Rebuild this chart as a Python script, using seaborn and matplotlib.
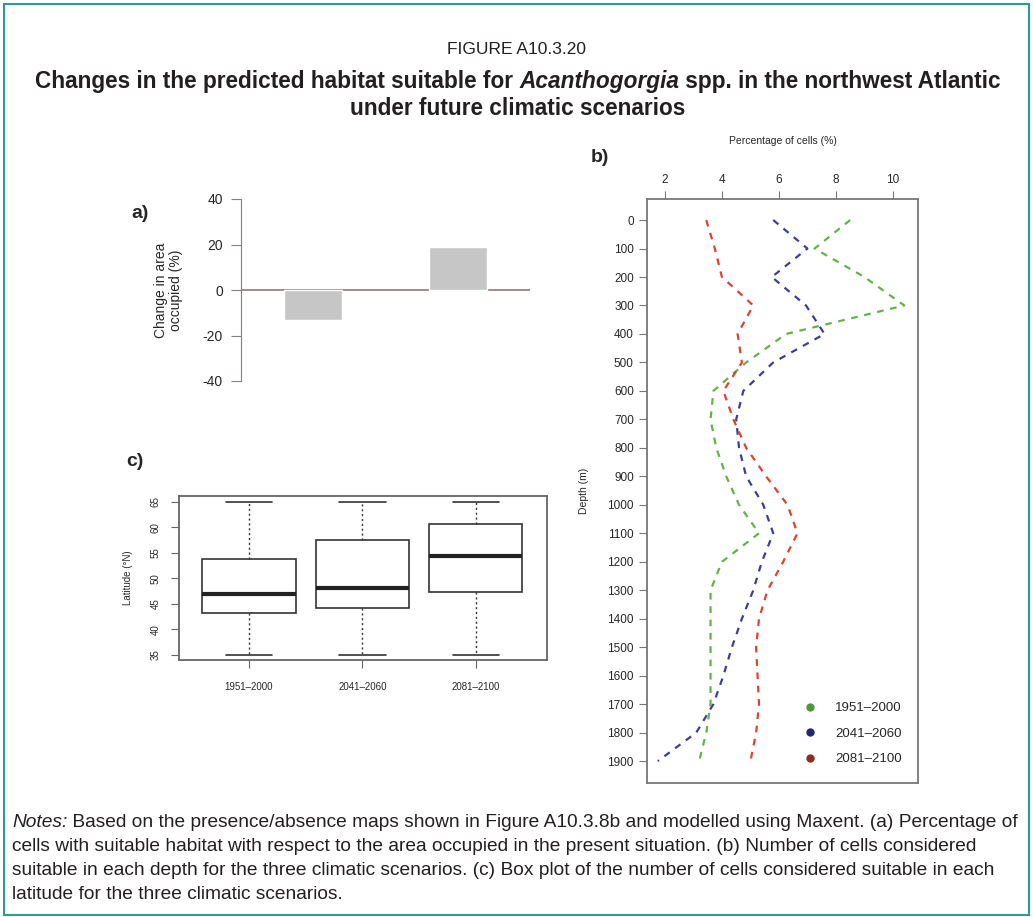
import numpy as np
import pandas as pd
import matplotlib
matplotlib.use('Agg')
import matplotlib.pyplot as plt
import seaborn as sns
from matplotlib.lines import Line2D
from matplotlib.patches import Rectangle

sns.set_style('white')
plt.rcParams['font.family'] = ['Liberation Sans', 'DejaVu Sans']
plt.rcParams['axes.unicode_minus'] = False

#panel a: change in area occupied (%)
a_scen = ['2041-2060', '2081-2100']
a_change = [-13, 19]

#panel b: percentage of cells per depth
depth = [0, 100, 200, 300, 400, 500, 600, 700, 800, 900, 1000,
         1100, 1200, 1300, 1400, 1500, 1600, 1700, 1800, 1900]
pct_1951 = [8.5, 7.25, 9.0, 10.4, 6.25, 4.85, 3.7, 3.6, 3.8, 4.15, 4.6,
            5.3, 4.0, 3.6, 3.6, 3.6, 3.6, 3.6, 3.45, 3.2]
pct_2041 = [5.8, 7.0, 5.75, 6.95, 7.6, 5.8, 4.75, 4.5, 4.6, 4.85, 5.45,
            5.8, 5.4, 5.1, 4.7, 4.35, 4.05, 3.7, 3.1, 1.75]
pct_2081 = [3.45, 3.75, 4.0, 5.1, 4.55, 4.7, 4.05, 4.4, 4.85, 5.55, 6.3,
            6.65, 6.15, 5.6, 5.3, 5.2, 5.25, 5.3, 5.2, 5.0]
scenarios = ['1951\u20132000', '2041\u20132060', '2081\u20132100']
line_cols = ['#63b347', '#3d3d9e', '#dc4330']
dot_cols = ['#4c9a3c', '#23296e', '#8e2c20']

#panel c: latitude box stats (min, q1, median, q3, max)
lat_1951 = [35, 43.2, 47.0, 53.7, 65]
lat_2041 = [35, 44.1, 48.1, 57.5, 65]
lat_2081 = [35, 47.35, 54.4, 60.6, 65]

W, H = 1033, 917
fig = plt.figure(figsize=(W / 100, H / 100), dpi=100)
renderer = fig.canvas.get_renderer()

def box(l, t, r, b):
    return [l / W, 1 - b / H, (r - l) / W, (b - t) / H]

def pieces(parts, x, y, align='left', **kw):
    #draws a line made of (text, style) parts next to each other, y is the baseline
    arts = [fig.text(0, 1 - y / H, s, fontstyle=st, va='baseline', **kw) for s, st in parts]
    widths = [a.get_window_extent(renderer).width for a in arts]
    x0 = x - sum(widths) / 2 if align == 'center' else x
    for a, w in zip(arts, widths):
        a.set_x(x0 / W)
        x0 += w

txt = '#231f20'
fig.patches.append(Rectangle((4 / W, 2 / H), 1025 / W, 1 - 6 / H, transform=fig.transFigure,
                             fill=False, edgecolor='#2a9d9a', linewidth=1.5))

fig.text(0.5, 1 - 50 / H, 'FIGURE A10.3.20', ha='center', va='center', fontsize=12.5, color=txt)
pieces([('Changes in the predicted habitat suitable for ', 'normal'), ('Acanthogorgia', 'italic'),
        (' spp. in the northwest Atlantic', 'normal')], 518, 88, align='center',
       fontsize=16.3, fontweight='bold', color=txt)
pieces([('under future climatic scenarios', 'normal')], 518, 115, align='center',
       fontsize=16.3, fontweight='bold', color=txt)

#---- panel a
axa = fig.add_axes(box(241, 199, 530, 381))
sns.barplot(x=a_scen, y=a_change, ax=axa, color='#c6c6c6', width=0.4, saturation=1)
axa.set_ylim(-40, 40)
axa.set_xlim(-0.5, 1.5)
axa.axhline(0, color='#8a7d78', linewidth=1.2, zorder=0)
axa.set_yticks([-40, -20, 0, 20, 40])
axa.set_xticks([])
for s in ['top', 'right', 'bottom']:
    axa.spines[s].set_visible(False)
axa.spines['left'].set_color('#8a7d78')
axa.spines['left'].set_bounds(-40, 40)
axa.tick_params(axis='y', length=7, color='#8a7d78', labelsize=10, pad=6, left=True)
axa.set_ylabel('Change in area\noccupied (%)', fontsize=10, linespacing=1.1)
axa.yaxis.set_label_coords(-0.2, 0.5)
axa.patch.set_alpha(0)
fig.text(140 / W, 1 - 213 / H, 'a)', fontsize=14, fontweight='bold', ha='center', va='center')

#---- panel b
axb = fig.add_axes(box(647, 199, 918, 783))
df = pd.DataFrame({'depth': depth * 3,
                   'pct': pct_1951 + pct_2041 + pct_2081,
                   'scen': np.repeat(scenarios, len(depth))})
for sc, c in zip(scenarios, line_cols):
    sns.lineplot(data=df[df.scen == sc], x='pct', y='depth', orient='y', estimator=None,
                 color=c, linestyle=(0, (3, 3)), linewidth=1.6, ax=axb)
axb.set_ylim(1977, -74)
axb.set_xlim(1.37, 10.88)
axb.set_yticks(depth)
axb.set_xticks([2, 4, 6, 8, 10])
axb.xaxis.tick_top()
axb.xaxis.set_label_position('top')
axb.set_xlabel('Percentage of cells (%)', fontsize=7.5)
axb.xaxis.set_label_coords(0.5, 1.095)
axb.set_ylabel('Depth (m)', fontsize=7.5)
axb.yaxis.set_label_coords(-0.215, 0.5)
axb.tick_params(axis='both', length=6, color='#777777', labelsize=8.5, left=True, top=True)
for s in axb.spines.values():
    s.set_color('#777777')
    s.set_linewidth(1.3)
handles = [Line2D([], [], marker='o', linestyle='none', color=c, markersize=5) for c in dot_cols]
axb.legend(handles, scenarios, loc='lower right', frameon=False, fontsize=9.5,
           handletextpad=0.9, labelspacing=1.0, bbox_to_anchor=(0.985, 0.01))
fig.text(600 / W, 1 - 157 / H, 'b)', fontsize=14, fontweight='bold', ha='center', va='center')

#---- panel c
axc = fig.add_axes(box(179, 496, 547, 660))
dfc = pd.DataFrame({'lat': lat_1951 + lat_2041 + lat_2081,
                    'scen': np.repeat(scenarios, 5)})
sns.boxplot(data=dfc, x='scen', y='lat', ax=axc, whis=(0, 100), color='white', width=0.82,
            linecolor='#333333', linewidth=1.2,
            whiskerprops=dict(linestyle=(0, (1.5, 2)), linewidth=1.0),
            medianprops=dict(linewidth=3, color='#222222'))
axc.set_xlim(-0.617, 2.626)
axc.set_ylim(34.0, 66.1)
axc.set_yticks([35, 40, 45, 50, 55, 60, 65])
axc.set_yticklabels([35, 40, 45, 50, 55, 60, 65], rotation=90, va='center')
axc.set_xlabel('')
axc.set_ylabel('Latitude (\u00b0N)', fontsize=7)
axc.yaxis.set_label_coords(-0.125, 0.5)
axc.tick_params(axis='both', length=6, color='#666666', labelsize=7, left=True, bottom=True)
axc.tick_params(axis='x', pad=10)
axc.tick_params(axis='y', pad=7)
for s in axc.spines.values():
    s.set_color('#666666')
    s.set_linewidth(1.3)
fig.text(135 / W, 1 - 462 / H, 'c)', fontsize=14, fontweight='bold', ha='center', va='center')

#---- notes
note_fs = 13.8
pieces([('Notes:', 'italic'), (' Based on the presence/absence maps shown in Figure A10.3.8b and modelled using Maxent. (a) Percentage of', 'normal')],
       12, 827, fontsize=note_fs, color=txt)
notes = ['cells with suitable habitat with respect to the area occupied in the present situation. (b) Number of cells considered',
         'suitable in each depth for the three climatic scenarios. (c) Box plot of the number of cells considered suitable in each',
         'latitude for the three climatic scenarios.']
for i, line in enumerate(notes):
    pieces([(line, 'normal')], 12, 851 + i * 24, fontsize=note_fs, color=txt)

plt.savefig('out.png', dpi=100)
